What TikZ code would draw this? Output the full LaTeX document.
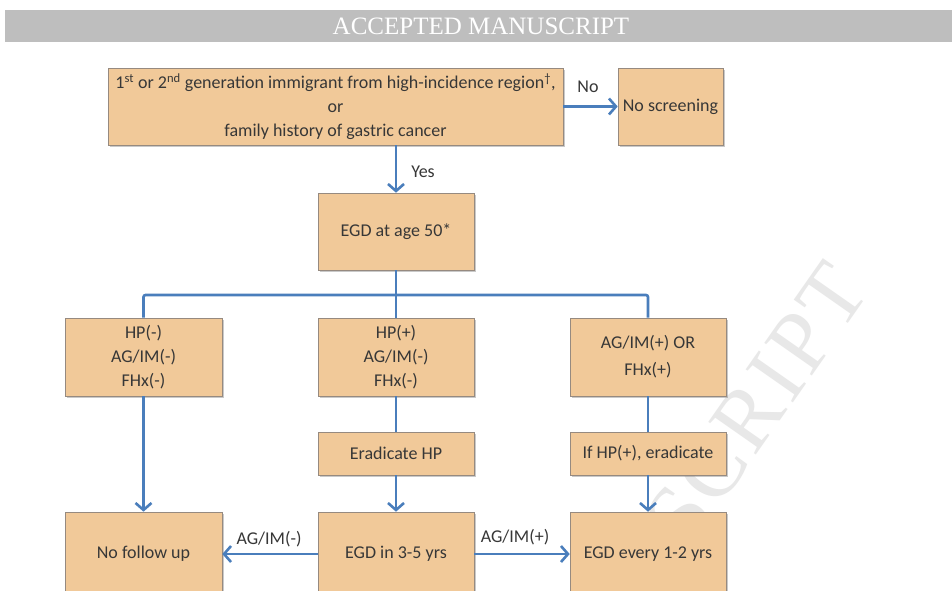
\documentclass[tikz,border=0pt]{standalone}
\usepackage{fontspec}
\setmainfont{Carlito}
\newfontfamily\bannerfont{Liberation Serif}
\newfontfamily\markfont[LetterSpace=5]{Liberation Serif}
\usetikzlibrary{arrows.meta,shadows}

\definecolor{boxfill}{RGB}{241,201,153}
\definecolor{boxline}{RGB}{150,138,128}
\definecolor{flowblue}{RGB}{74,126,188}
\definecolor{inkgray}{RGB}{55,55,55}
\definecolor{bannergray}{RGB}{190,190,190}
\definecolor{markgray}{RGB}{232,232,232}

\begin{document}
\begin{tikzpicture}[x=1pt,y=-1pt,
  stepbox/.style={draw=boxline, line width=0.6pt, fill=boxfill, align=center,
    text=inkgray, font=\fontsize{18}{24}\selectfont, inner sep=0pt,
    drop shadow={shadow xshift=1.5pt, shadow yshift=-2pt, opacity=0.35, fill=black!60}},
  flow/.style={draw=flowblue, line width=2.6pt},
  arr/.style={flow, -{Straight Barb[length=7pt,width=16pt]}},
  lbl/.style={text=inkgray, font=\fontsize{18}{20}\selectfont, inner sep=0pt}]

\useasboundingbox (0,0) rectangle (952,590);
\clip (0,0) rectangle (952,590);
\fill[white] (0,0) rectangle (952,590);

% header banner
\fill[bannergray] (5,10) rectangle (952,42);
\node (banner) at (481,26) {\bannerfont\fontsize{25}{25}\selectfont\color{white}ACCEPTED MANUSCRIPT};

% diagonal watermark behind the chart
\node[anchor=base east, rotate=55, text=markgray, inner sep=0pt] (mark) at (872,290)
  {\markfont\fontsize{88}{88}\selectfont ACCEPTED MANUSCRIPT};

% boxes
\node[stepbox, minimum width=455pt, minimum height=77pt] (risk) at (335.5,106.5)
  {1\textsuperscript{st} or 2\textsuperscript{nd} generation immigrant from high-incidence region\textsuperscript{\textdagger},\\
   or\\ family history of gastric cancer};
\node[stepbox, minimum width=105pt, minimum height=77pt] (noscreen) at (670.5,106.5) {No screening};
\node[stepbox, minimum width=156pt, minimum height=77pt] (egd50) at (396,231.5) {EGD at age 50*};

\node[stepbox, minimum width=157pt, minimum height=78pt] (hpneg) at (143.5,357) {HP(-)\\AG/IM(-)\\FHx(-)};
\node[stepbox, minimum width=156pt, minimum height=78pt] (hppos) at (396,357) {HP(+)\\AG/IM(-)\\FHx(-)};
\node[stepbox, minimum width=156pt, minimum height=78pt] (agpos) at (648,357) {AG/IM(+) OR\\[3pt]FHx(+)};

\node[stepbox, minimum width=156pt, minimum height=43pt] (erad) at (396,453.5) {Eradicate HP};
\node[stepbox, minimum width=156pt, minimum height=43pt] (ifhp) at (648,453.5) {If HP(+), eradicate};

\node[stepbox, minimum width=157pt, minimum height=84pt] (nofollow) at (143.5,554) {No follow up};
\node[stepbox, minimum width=156pt, minimum height=84pt] (egd35) at (396,554) {EGD in 3-5 yrs};
\node[stepbox, minimum width=156pt, minimum height=84pt] (egd12) at (648,554) {EGD every 1-2 yrs};

% connectors
\draw[arr] (risk.east) -- (noscreen.west);
\node[lbl] (nolbl) at (588,87) {No};
\draw[arr] (risk.south -| egd50.north) -- (egd50.north);
\node[lbl] (yeslbl) at (423,172) {Yes};

\coordinate (split) at (396,295);
\draw[flow] (egd50.south) -- (hppos.north);
\draw[flow, rounded corners=2pt] (hpneg.north) |- (split) -| (agpos.north);

\draw[arr] (hpneg.south) -- (nofollow.north);
\draw[flow] (hppos.south) -- (erad.north);
\draw[arr] (erad.south) -- (egd35.north);
\draw[flow] (agpos.south) -- (ifhp.north);
\draw[arr] (ifhp.south) -- (egd12.north);

\draw[arr] (egd35.west) -- (nofollow.east);
\node[lbl] (neglbl) at (269,539) {AG/IM(-)};
\draw[arr] (egd35.east) -- (egd12.west);
\node[lbl] (poslbl) at (515,537) {AG/IM(+)};
\end{tikzpicture}
\end{document}
